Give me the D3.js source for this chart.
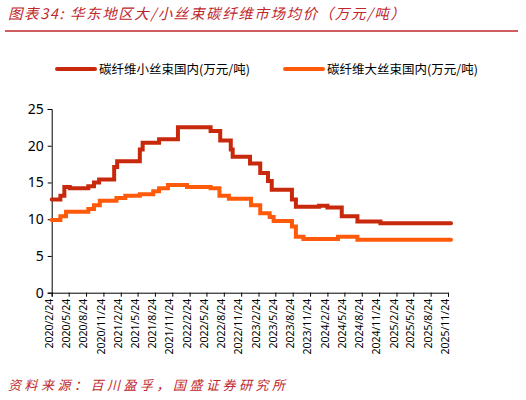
<!DOCTYPE html><html><head><meta charset="utf-8"><script src="https://cdn.jsdelivr.net/npm/d3@7"></script>
<style>body{margin:0;background:#fff}text{font-family:"Noto Sans CJK SC","Noto Sans",sans-serif}</style></head><body>
<script>
const smallDates=["2020-02-24","2020-04-10","2020-05-01","2020-05-30","2020-09-05","2020-10-05","2020-11-01","2021-01-20","2021-02-05","2021-06-05","2021-06-20","2021-09-15","2021-12-24","2022-06-15","2022-08-05","2022-09-30","2022-10-10","2023-01-10","2023-03-05","2023-04-15","2023-05-05","2023-08-20","2023-09-10","2024-01-10","2024-02-24","2024-05-10","2024-08-01","2024-12-01","2025-12-10"];
const smallValues=[12.7,13.2,14.4,14.2,14.5,15.0,15.4,17.1,17.9,19.5,20.4,20.9,22.5,22.0,20.7,19.5,18.5,17.6,16.3,15.2,14.0,12.7,11.7,11.85,11.6,10.4,9.7,9.45,9.45];
const largeDates=["2020-02-24","2020-04-10","2020-05-10","2020-09-05","2020-10-05","2020-11-05","2021-02-01","2021-03-20","2021-06-05","2021-08-15","2021-09-15","2021-11-01","2022-02-10","2022-06-15","2022-08-01","2022-09-20","2023-01-15","2023-03-05","2023-04-24","2023-05-15","2023-08-20","2023-09-10","2023-10-20","2024-04-20","2024-08-01","2025-12-10"];
const largeValues=[9.9,10.4,11.0,11.4,11.9,12.5,12.9,13.2,13.4,13.8,14.2,14.65,14.4,14.2,13.2,12.8,11.9,10.8,10.3,9.75,9.0,7.6,7.3,7.6,7.2,7.2];
const seriesNames=["碳纤维小丝束国内(万元/吨)","碳纤维大丝束国内(万元/吨)"];
const colors=["#c8290c","#ff5a0a"];
const yTicks=[0,5,10,15,20,25];
const xTickLabels=[];for(let y=2020;y<=2025;y++)for(const m of [2,5,8,11]){xTickLabels.push(`${y}/${m}/24`);}

const p=d3.timeParse("%Y-%m-%d");
const svg=d3.select("body").append("svg").attr("width",526).attr("height",400);
svg.append("text").attr("x",8).attr("y",19).attr("fill","#c0272d").attr("font-size",14.5).attr("font-style","italic").attr("letter-spacing",1.6).text("图表34:  华东地区大/小丝束碳纤维市场均价（万元/吨）");
svg.append("line").attr("x1",5).attr("x2",518).attr("y1",31).attr("y2",31).attr("stroke","#c0272d").attr("stroke-width",1.5);
const x=d3.scaleTime().domain([p("2020-02-24"),p("2025-11-24")]).range([51.7,448]);
const y=d3.scaleLinear().domain([0,25]).range([292.7,109]);
const tickDates=xTickLabels.map(s=>d3.timeParse("%Y/%m/%d")(s));
const xa=svg.append("g").attr("transform","translate(0,292.7)").call(d3.axisBottom(x).tickValues(tickDates).tickFormat(d3.timeFormat("%Y/%-m/%-d")).tickSize(4));
xa.selectAll("text").attr("transform","rotate(-90)").attr("text-anchor","end").attr("x",-6).attr("y",-3).attr("dy","0.35em").attr("font-size",10.5).attr("fill","#000").style("font-family","Noto Sans, sans-serif");
const ya=svg.append("g").attr("transform","translate(51.7,0)").call(d3.axisLeft(y).tickValues(yTicks).tickSize(4));
ya.selectAll("text").attr("font-size",14).attr("fill","#000").attr("x",-8).style("font-family","Noto Sans, sans-serif");
svg.selectAll(".domain,.tick line").attr("stroke","#000");
const line=d3.line().x(d=>x(d[0])).y(d=>y(d[1])).curve(d3.curveStepAfter);
[[smallDates,smallValues],[largeDates,largeValues]].forEach(([ds,vs],i)=>{
  svg.append("path").datum(ds.map((d,j)=>[p(d),vs[j]])).attr("d",line).attr("fill","none").attr("stroke",colors[i]).attr("stroke-width",4).attr("stroke-linecap","round");
});
const lx=[57,285];
seriesNames.forEach((n,i)=>{
  svg.append("line").attr("x1",lx[i]).attr("x2",lx[i]+38).attr("y1",69).attr("y2",69).attr("stroke",colors[i]).attr("stroke-width",4).attr("stroke-linecap","round");
  svg.append("text").attr("x",lx[i]+42).attr("y",74).attr("font-size",12.5).text(n);
});
svg.append("text").attr("x",8).attr("y",390).attr("fill","#c0272d").attr("font-size",13).attr("font-style","italic").attr("letter-spacing",3.5).text("资料来源：百川盈孚，国盛证券研究所");
</script></body></html>
